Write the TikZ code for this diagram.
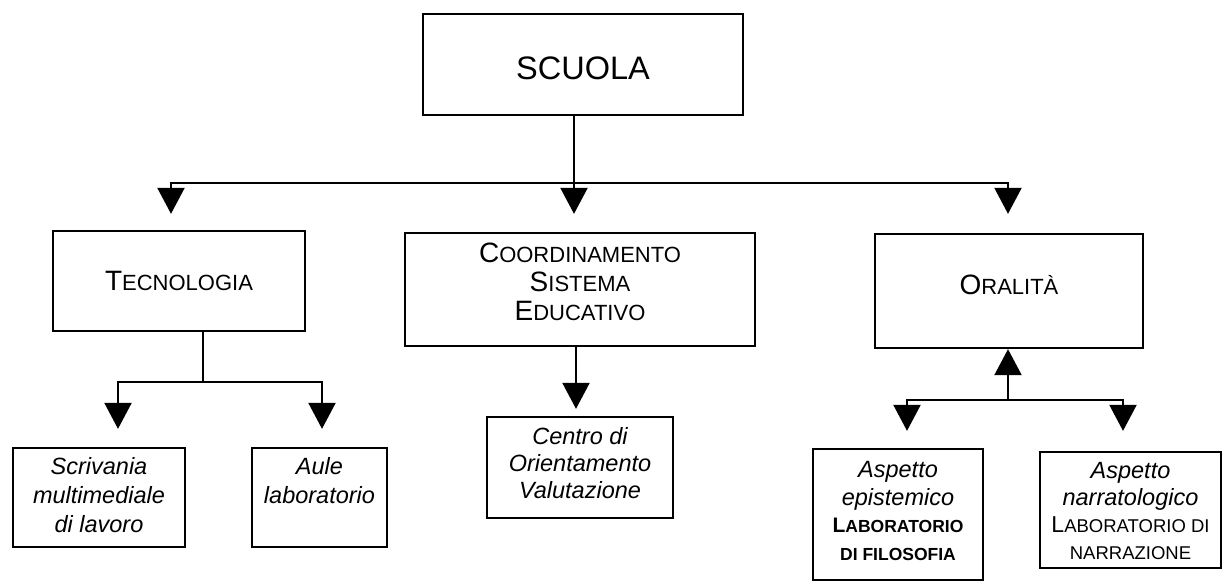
\documentclass[tikz,border=0pt]{standalone}
\usepackage{fontspec}
\setmainfont{Liberation Sans}
\usetikzlibrary{arrows.meta}
% fake small caps: big initial + small capitals
\newcommand\SCbig[1]{{\fontsize{28}{30}\selectfont #1}}
\newcommand\SCsm[1]{{\fontsize{22}{30}\selectfont #1}}
\newcommand\LCbig[1]{{\fontsize{23}{27.3}\selectfont #1}}
\newcommand\LCsm[1]{{\fontsize{18.5}{27.3}\selectfont #1}}
\newcommand\LBbig[1]{{\fontsize{21}{27.5}\selectfont #1}}
\newcommand\LBsm[1]{{\fontsize{17.5}{27.5}\selectfont #1}}
\tikzset{
  box/.style={draw, line width=2.3pt, inner sep=0pt},
  txt/.style={inner sep=0pt, align=center, font=\fontsize{23.5}{29}\selectfont},
  conn/.style={line width=2.1pt},
  tri/.style={-{Triangle[width=27pt,length=26pt]}},
}
\begin{document}
\begin{tikzpicture}[x=1pt,y=-1pt]
\useasboundingbox (0,0) rectangle (1223,581);
\fill[white] (0,0) rectangle (1223,581);

% boxes
\node[box, minimum width=320pt, minimum height=101pt] (scuola) at (583,64.5) {};
\node[box, minimum width=252pt, minimum height=100pt] (tec) at (179,281) {};
\node[box, minimum width=350pt, minimum height=113pt] (coord) at (580,289.5) {};
\node[box, minimum width=268pt, minimum height=114pt] (oral) at (1009,291) {};
\node[box, minimum width=172pt, minimum height=99pt] (scriv) at (99,497.5) {};
\node[box, minimum width=135pt, minimum height=99pt] (aule) at (319.5,497.5) {};
\node[box, minimum width=186pt, minimum height=101pt] (centro) at (580,467.5) {};
\node[box, minimum width=170pt, minimum height=131pt] (epist) at (898,514.5) {};
\node[box, minimum width=181pt, minimum height=116pt] (narr) at (1130.5,510) {};

% texts
\node[txt] (scuolat) at ([yshift=-4pt]scuola.center)
  {\fontsize{32.5}{36}\selectfont SCUOLA};
\node[txt] (tect) at (tec.center) {\SCbig{T}\SCsm{ECNOLOGIA}};
\node[txt] (coordt) at ([yshift=8pt]coord.center)
  {\SCbig{C}\SCsm{OORDINAMENTO}\\ \SCbig{S}\SCsm{ISTEMA}\\ \SCbig{E}\SCsm{DUCATIVO}};
\node[txt] (oralt) at ([yshift=6pt]oral.center) {\SCbig{O}\SCsm{RALITÀ}};
\node[txt] (scrivt) at ([yshift=2pt]scriv.center)
  {\itshape Scrivania\\ \itshape multimediale\\ \itshape di lavoro};
\node[txt] (aulet) at ([yshift=17pt]aule.center)
  {\itshape Aule\\ \itshape laboratorio};
\node[txt, font=\fontsize{23.5}{27}\selectfont] (centrot) at ([yshift=4pt]centro.center)
  {\itshape Centro di\\ \itshape Orientamento\\ \itshape Valutazione};
\node[txt, font=\fontsize{23.5}{27.5}\selectfont] (epistt) at ([yshift=3.5pt]epist.center)
  {\itshape Aspetto\\ \itshape epistemico\\
   \bfseries\LBbig{L}\LBsm{ABORATORIO}\\ \bfseries\LBsm{DI FILOSOFIA}};
\node[txt, font=\fontsize{23.5}{27.3}\selectfont] (narrt) at ([yshift=-1pt]narr.center)
  {\itshape Aspetto\\ \itshape narratologico\\
   \LCbig{L}\LCsm{ABORATORIO DI}\\ \LCsm{NARRAZIONE}};

% top bus
\coordinate (b1) at (574,183);
\draw[conn] ([xshift=-9pt]scuola.south) -- (b1);
\draw[conn,tri,shorten >=16pt] (b1) -| ([xshift=-8pt]tec.north);
\draw[conn,tri,shorten >=18pt] (b1) -- ([xshift=-6pt]coord.north);
\draw[conn,tri,shorten >=19pt] (b1) -| ([xshift=-1pt]oral.north);

% tecnologia bus
\coordinate (b2) at (203,382);
\draw[conn] ([xshift=24pt]tec.south) -- (b2);
\draw[conn,tri,shorten >=18pt] (b2) -| ([xshift=19pt]scriv.north);
\draw[conn,tri,shorten >=18pt] (b2) -| ([xshift=2.5pt]aule.north);

% coordinamento -> centro
\draw[conn,tri,shorten >=7pt] ([xshift=-4pt]coord.south) -- ([xshift=-4pt]centro.north);

% oralita bus
\coordinate (b3) at (1008,400);
\draw[conn,tri] (b3) -- ([xshift=-1pt]oral.south);
\draw[conn,tri,shorten >=17pt] (b3) -| ([xshift=9pt]epist.north);
\draw[conn,tri,shorten >=20pt] (b3) -| ([xshift=-7.5pt]narr.north);
\end{tikzpicture}
\end{document}
